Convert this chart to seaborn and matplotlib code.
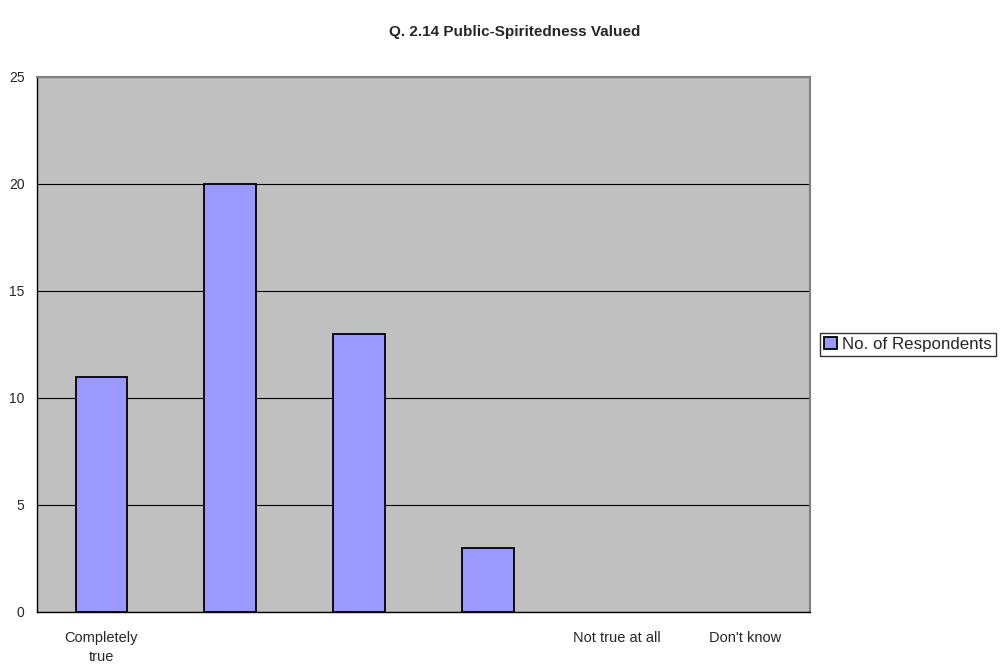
import matplotlib
matplotlib.use("Agg")
import matplotlib.pyplot as plt
import seaborn as sns
import pandas as pd
import numpy as np

categories = ["Completely\ntrue", "cat2", "cat3", "cat4", "Not true at all", "Don't know"]
tick_labels = ["Completely\ntrue", "", "", "", "Not true at all", "Don't know"]
respondents = [11, 20, 13, 3, 0, 0]
series_name = "No. of Respondents"
y_ticks = [0, 5, 10, 15, 20, 25]

sns.set_style("white")
plt.rcParams["font.family"] = ["Liberation Sans", "DejaVu Sans"]

df = pd.DataFrame({"cat": categories, "val": respondents, "series": series_name})

fig = plt.figure(figsize=(10.02, 6.66), dpi=100)
ax = fig.add_axes([0.0369, 0.0811, 0.7715, 0.8033])
ax.set_facecolor("#C0C0C0")

sns.barplot(data=df, x="cat", y="val", hue="series", order=categories,
            palette=["#9999FF"], saturation=1, width=0.4, edgecolor="black",
            linewidth=1.3, ax=ax, zorder=3)

# empty categories get no visible bar outline
for patch in ax.patches:
    if patch.get_height() == 0:
        patch.set_linewidth(0)

ax.set_ylim(0, 25)
ax.set_xlim(-0.5, len(categories) - 0.5)
ax.set_yticks(y_ticks)
ax.yaxis.grid(True, color="black", linewidth=0.8, zorder=1)
ax.set_axisbelow(True)

ax.set_xticks(range(len(categories)))
ax.set_xticklabels(tick_labels, fontsize=10.5, linespacing=1.4)
ax.set_xticks(np.arange(-0.5, len(categories)), minor=True)
ax.tick_params(axis="x", which="major", length=0, pad=14)
ax.tick_params(axis="x", which="minor", length=5, width=1, color="black", direction="out")
ax.tick_params(axis="y", length=5, width=1, color="black", direction="out", labelsize=10, pad=4)
ax.set_xlabel("")
ax.set_ylabel("")

for side in ["left", "bottom"]:
    ax.spines[side].set_color("black")
    ax.spines[side].set_linewidth(1)
for side in ["top", "right"]:
    ax.spines[side].set_visible(True)
    ax.spines[side].set_color("#808080")
    ax.spines[side].set_linewidth(1.5)

fig.suptitle("Q. 2.14 Public-Spiritedness Valued", x=0.514, y=0.962,
             fontsize=11, fontweight="bold")

leg = ax.legend(loc="center left", bbox_to_anchor=(1.013, 0.5), fontsize=12.2,
                frameon=True, fancybox=False, edgecolor="black",
                handlelength=0.75, handleheight=0.75, handletextpad=0.3,
                borderpad=0.25, borderaxespad=0)
leg.get_frame().set_linewidth(1)
for handle in leg.legend_handles:
    handle.set_linewidth(1.3)
    handle.set_edgecolor("black")

fig.savefig("out.png", dpi=100, facecolor="white")
